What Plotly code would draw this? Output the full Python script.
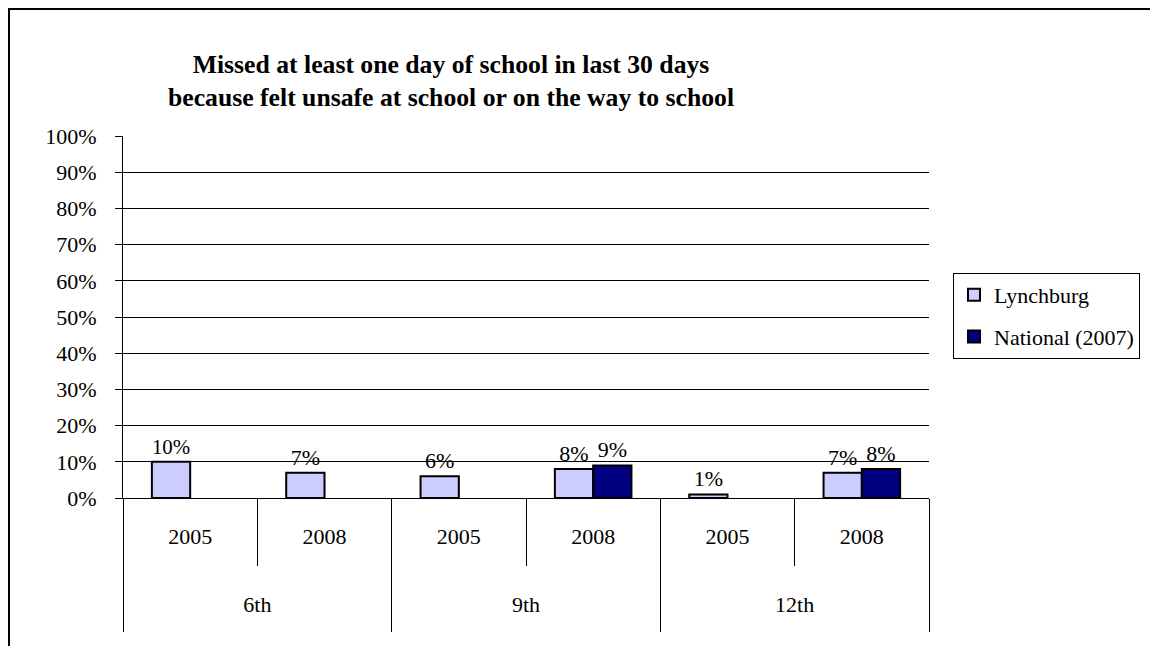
import plotly.graph_objects as go

# 数据
grades = ["6th", "9th", "12th"]
years = ["2005", "2008", "2005", "2008", "2005", "2008"]
lynchburg = [0.10, 0.07, 0.06, 0.08, 0.01, 0.07]
national = [None, None, None, 0.09, None, 0.08]
title_lines = [
    "Missed at least one day of school in last 30 days",
    "because felt unsafe at school or on the way to school",
]

# 页面有 8px 的 body 边距，所以图本身缩小 8px
OFF = 8
W, H = 1158 - OFF, 646 - OFF
L, R, T, B = 123 - OFF, 1158 - 929, 136 - OFF, 646 - 498
FONT = "Liberation Serif"

idx = list(range(len(years)))
bounds = [i - 0.5 for i in range(len(years) + 1)]
grp_centers = [2 * i + 0.5 for i in range(len(grades))]
grp_bounds = [2 * i - 0.5 for i in range(len(grades) + 1)]

pw = W - L - R
ph = H - T - B

fig = go.Figure()

fig.add_trace(go.Bar(
    x=idx, y=lynchburg, name="Lynchburg", legendgroup="a",
    marker=dict(color="#CCCCFF", line=dict(color="black", width=2)),
    text=[f"{v:.0%}" for v in lynchburg], textposition="outside",
    cliponaxis=False,
))
fig.add_trace(go.Bar(
    x=idx, y=national, name="National (2007)", legendgroup="b",
    marker=dict(color="#000080", line=dict(color="black", width=2)),
    text=[f"{v:.0%}" if v is not None else "" for v in national], textposition="outside",
    cliponaxis=False,
))
# 第二层分类轴需要一个看不见的 trace
fig.add_trace(go.Scatter(
    x=grp_centers, y=[0] * len(grades), xaxis="x2", mode="markers",
    marker=dict(opacity=0), showlegend=False, hoverinfo="skip",
))

# 标题
annotations = [dict(
    text="<b>" + "<br>".join(title_lines) + "</b>", xref="paper", yref="paper",
    x=(451 - 123) / pw, y=(498 - 81.5) / ph, xanchor="center", yanchor="middle",
    showarrow=False, font=dict(size=25.7),
)]

fig.update_layout(
    width=W, height=H,
    margin=dict(l=L, r=R, t=T, b=B),
    paper_bgcolor="white", plot_bgcolor="white",
    font=dict(family=FONT, size=22, color="black"),
    barmode="group", bargap=0.43, bargroupgap=0,
    annotations=annotations,
    xaxis=dict(
        range=[-0.5, len(years) - 0.5], tickmode="array", tickvals=idx, ticktext=years,
        showline=True, linecolor="black", linewidth=1, showgrid=False, zeroline=False,
        ticks="", minor=dict(tickmode="array", tickvals=bounds, ticks="outside",
                             ticklen=67, tickcolor="black", tickwidth=1, showgrid=False),
        ticklabelstandoff=19,
    ),
    xaxis2=dict(
        overlaying="x", anchor="y", side="bottom",
        range=[-0.5, len(years) - 0.5], tickmode="array", tickvals=grp_centers, ticktext=grades,
        showline=False, showgrid=False, zeroline=False,
        ticks="", minor=dict(tickmode="array", tickvals=grp_bounds, ticks="outside",
                             ticklen=133, tickcolor="black", tickwidth=1, showgrid=False),
        ticklabelstandoff=91,
    ),
    yaxis=dict(
        range=[0, 1], dtick=0.1, tickformat=".0%",
        showline=True, linecolor="black", linewidth=1,
        ticks="outside", ticklen=7, tickcolor="black",
        showgrid=True, gridcolor="black", gridwidth=1,
        zeroline=False, ticklabelstandoff=14,
    ),
    legend=dict(
        x=(953 - 123) / pw, xanchor="left", y=(498 - 316) / ph, yanchor="middle",
        bordercolor="black", borderwidth=1, bgcolor="white",
        font=dict(size=22), tracegroupgap=10,
        entrywidth=192, entrywidthmode="pixels",
    ),
    showlegend=True,
    shapes=[dict(
        type="rect", xref="paper", yref="paper",
        x0=(1 - L) / pw, x1=(1170 - L) / pw,
        y0=-0.5, y1=(H - B - 1) / ph,
        line=dict(color="black", width=2), layer="below",
    )],
)

fig.write_html("out.html")
